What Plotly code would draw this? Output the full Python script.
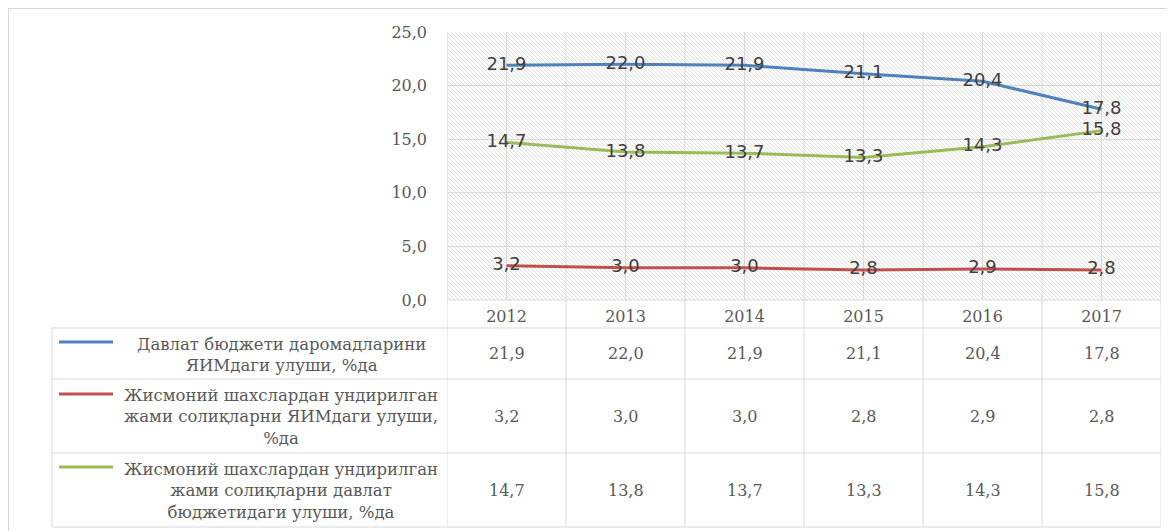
import base64
import plotly.graph_objects as go

# ---------------- data ----------------
years = ["2012", "2013", "2014", "2015", "2016", "2017"]
budget_revenue_gdp = [21.9, 22.0, 21.9, 21.1, 20.4, 17.8]
personal_tax_gdp = [3.2, 3.0, 3.0, 2.8, 2.9, 2.8]
personal_tax_budget = [14.7, 13.8, 13.7, 13.3, 14.3, 15.8]
series_names = [
    "Давлат бюджети даромадларини<br>ЯИМдаги улуши, %да",
    "Жисмоний шахслардан ундирилган<br>жами солиқларни ЯИМдаги улуши,<br>%да",
    "Жисмоний шахслардан ундирилган<br>жами солиқларни давлат<br>бюджетидаги улуши, %да",
]
y_ticks = [0, 5, 10, 15, 20, 25]

series_values = [budget_revenue_gdp, personal_tax_gdp, personal_tax_budget]
colors = ["#4F81BD", "#C0504D", "#9BBB59"]

# ---------------- layout geometry (page pixels) ----------------
OFF = 8                      # page body margin
W, H = 1175 - OFF, 531 - OFF
L, R, T, B = 447, 1161, 32, 300          # plot area (page px)
TAB_LEFT = 52
ROW_EDGES = [300, 328, 379, 453, 527]
LEG_LINE_X = (59, 113)
LEG_LINE_Y = [342, 394, 467]
LEG_TEXT_Y = [355, 417, 491]
LEG_TEXT_X = 281

GRID = "#d9d9d9"
TXT = "#595959"
SERIF = "DejaVu Serif"


def px(x):
    return (x - L) / (R - L)


def py(y):
    return (B - y) / (B - T)


# hatch background as an svg image
pw, ph = R - L, B - T
svg = (
    f'<svg xmlns="http://www.w3.org/2000/svg" width="{pw}" height="{ph}">'
    '<defs><pattern id="p" width="4" height="4" patternUnits="userSpaceOnUse">'
    '<rect width="4" height="4" fill="white"/>'
    '<path d="M-1,-1 L5,5 M-1,3 L1,5 M3,-1 L5,1" stroke="#dedede" stroke-width="0.9"/>'
    '</pattern></defs><rect width="100%" height="100%" fill="url(#p)"/></svg>'
)
svg_uri = "data:image/svg+xml;base64," + base64.b64encode(svg.encode()).decode()

fig = go.Figure()

for vals, col in zip(series_values, colors):
    fig.add_trace(go.Scatter(
        x=years, y=vals, mode="lines+text",
        line=dict(color=col, width=3),
        texttemplate="%{y:.1f}", textposition="middle center",
        textfont=dict(family="DejaVu Sans", size=18, color="#404040"),
        cliponaxis=False, showlegend=False, hoverinfo="skip",
    ))

shapes = []
n = len(years)
for i in range(n + 1):
    shapes.append(dict(type="line", xref="x", yref="paper",
                       x0=i - 0.5, x1=i - 0.5, y0=py(T), y1=py(ROW_EDGES[-1]),
                       line=dict(color=GRID, width=1), layer="below"))
for i in range(n):
    shapes.append(dict(type="line", xref="x", yref="paper",
                       x0=i, x1=i, y0=py(T), y1=py(B),
                       line=dict(color=GRID, width=1), layer="below"))
shapes.append(dict(type="line", xref="paper", yref="paper",
                   x0=0, x1=1, y0=py(ROW_EDGES[0]), y1=py(ROW_EDGES[0]),
                   line=dict(color=GRID, width=1)))
for yy in ROW_EDGES[1:]:
    shapes.append(dict(type="line", xref="paper", yref="paper",
                       x0=px(TAB_LEFT), x1=1, y0=py(yy), y1=py(yy),
                       line=dict(color=GRID, width=1)))
shapes.append(dict(type="line", xref="paper", yref="paper",
                   x0=px(TAB_LEFT), x1=px(TAB_LEFT),
                   y0=py(ROW_EDGES[1]), y1=py(ROW_EDGES[-1]),
                   line=dict(color=GRID, width=1)))
for ly, col in zip(LEG_LINE_Y, colors):
    shapes.append(dict(type="line", xref="paper", yref="paper",
                       x0=px(LEG_LINE_X[0]), x1=px(LEG_LINE_X[1]),
                       y0=py(ly), y1=py(ly), line=dict(color=col, width=3)))
# outer chart border
shapes.append(dict(type="line", xref="paper", yref="paper",
                   x0=px(OFF), x1=px(1175), y0=py(OFF), y1=py(OFF),
                   line=dict(color=GRID, width=2)))
shapes.append(dict(type="line", xref="paper", yref="paper",
                   x0=px(OFF), x1=px(OFF), y0=py(OFF), y1=py(540),
                   line=dict(color=GRID, width=2)))

annotations = []
for r, vals in enumerate(series_values):
    cy = (ROW_EDGES[r + 1] + ROW_EDGES[r + 2]) / 2
    for i, v in enumerate(vals):
        annotations.append(dict(
            x=i, xref="x", y=py(cy), yref="paper",
            text=f"{v:.1f}".replace(".", ","), showarrow=False,
            font=dict(family=SERIF, size=16, color=TXT),
            xanchor="center", yanchor="middle"))
for name, ty in zip(series_names, LEG_TEXT_Y):
    annotations.append(dict(
        x=px(LEG_TEXT_X), xref="paper", y=py(ty), yref="paper",
        text=name, showarrow=False, align="center",
        font=dict(family=SERIF, size=16.5, color=TXT),
        xanchor="center", yanchor="middle"))

fig.update_layout(
    width=W, height=H,
    margin=dict(l=L - OFF, r=W - (R - OFF), t=T - OFF, b=H - (B - OFF), pad=0),
    paper_bgcolor="white", plot_bgcolor="rgba(0,0,0,0)",
    separators=", ",
    shapes=shapes, annotations=annotations,
    images=[dict(source=svg_uri, xref="paper", yref="paper", x=0, y=1,
                 sizex=1, sizey=1, sizing="stretch", layer="below",
                 xanchor="left", yanchor="top")],
    xaxis=dict(type="category", range=[-0.5, n - 0.5], showgrid=False,
               showline=False, ticks="", zeroline=False,
               tickfont=dict(family=SERIF, size=16, color=TXT),
               ticklabelstandoff=5, fixedrange=True),
    yaxis=dict(range=[0, 25], tickvals=y_ticks, tickformat=".1f",
               showgrid=True, gridcolor=GRID, gridwidth=1, zeroline=False,
               showline=False, ticks="",
               tickfont=dict(family=SERIF, size=16, color=TXT),
               ticklabelstandoff=19, fixedrange=True),
)

fig.write_html("out.html")
